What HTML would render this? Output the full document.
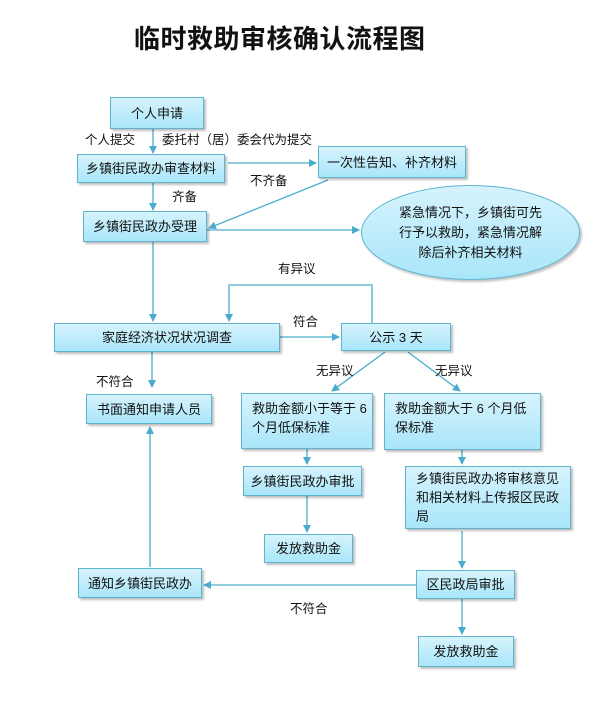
<!DOCTYPE html>
<html><head><meta charset="utf-8"><style>
body{margin:0;width:605px;height:705px;background:#fff;position:relative;overflow:hidden;font-family:"Liberation Sans","Noto Sans CJK SC",sans-serif;font-size:13px;color:#111}
.b{position:absolute;box-sizing:border-box;border:1px solid #5fb3cf;background:linear-gradient(#d6f3fc,#a9e6fa);box-shadow:2px 2px 2px rgba(0,0,0,.25);display:flex;align-items:center;justify-content:center;text-align:center;line-height:19px}
.l{justify-content:flex-start;text-align:left;padding-left:10px;align-items:flex-start;padding-top:5px}
.t{position:absolute;white-space:nowrap;font-size:12.5px}
svg{position:absolute;left:0;top:0}
</style></head><body>
<div class="t" style="left:134px;top:19px;font-size:26px;font-weight:bold;letter-spacing:0.5px">临时救助审核确认流程图</div>
<svg width="605" height="705"><defs><marker id="a" markerWidth="8" markerHeight="8" refX="7" refY="4" orient="auto" markerUnits="userSpaceOnUse"><path d="M0,0L8,4L0,8z" fill="#4aaccc"/></marker></defs>
<g stroke="#4aaccc" stroke-width="1.3" fill="none" marker-end="url(#a)">
<path d="M153 129V153"/><path d="M228 163H316"/><path d="M153 183V210"/>
<path d="M328 180L209 228"/><path d="M207 230H359"/>
<path d="M153 242V321"/><path d="M372 323V285H229V321"/>
<path d="M280 337H339"/><path d="M152 352V387"/>
<path d="M385 352L332 391"/><path d="M408 352L460 391"/>
<path d="M307 449V464"/><path d="M307 496V532"/>
<path d="M462 450V464"/><path d="M462 531V568"/><path d="M462 599V634"/>
<path d="M416 585H204"/><path d="M150 567V427"/>
</g></svg>
<div class="b" style="left:110px;top:97px;width:94px;height:32px">个人申请</div>
<div class="t" style="left:85px;top:129px">个人提交</div>
<div class="t" style="left:162px;top:129px">委托村（居）委会代为提交</div>
<div class="b" style="left:77px;top:154px;width:148px;height:29px">乡镇街民政办审查材料</div>
<div class="b" style="left:318px;top:146px;width:148px;height:32px">一次性告知、补齐材料</div>
<div class="t" style="left:250px;top:170px">不齐备</div>
<div class="t" style="left:172px;top:186px">齐备</div>
<div class="b" style="left:83px;top:211px;width:124px;height:31px">乡镇街民政办受理</div>
<div class="b" style="left:361px;top:185px;width:219px;height:95px;border-radius:50%;line-height:20px">紧急情况下，乡镇街可先<br>行予以救助，紧急情况解<br>除后补齐相关材料</div>
<div class="t" style="left:278px;top:258px">有异议</div>
<div class="b" style="left:54px;top:323px;width:226px;height:29px">家庭经济状况状况调查</div>
<div class="t" style="left:293px;top:311px">符合</div>
<div class="b" style="left:341px;top:323px;width:110px;height:28px">公示 3 天</div>
<div class="t" style="left:96px;top:371px">不符合</div>
<div class="t" style="left:316px;top:360px">无异议</div>
<div class="t" style="left:435px;top:360px">无异议</div>
<div class="b" style="left:86px;top:394px;width:126px;height:30px">书面通知申请人员</div>
<div class="b l" style="left:241px;top:393px;width:132px;height:56px">救助金额小于等于 6<br>个月低保标准</div>
<div class="b l" style="left:384px;top:393px;width:157px;height:57px">救助金额大于 6 个月低<br>保标准</div>
<div class="b" style="left:243px;top:466px;width:119px;height:30px">乡镇街民政办审批</div>
<div class="b" style="left:264px;top:534px;width:89px;height:29px">发放救助金</div>
<div class="b l" style="left:405px;top:466px;width:166px;height:63px;padding-top:2px">乡镇街民政办将审核意见<br>和相关材料上传报区民政<br>局</div>
<div class="b" style="left:78px;top:568px;width:124px;height:30px">通知乡镇街民政办</div>
<div class="b" style="left:416px;top:570px;width:99px;height:29px">区民政局审批</div>
<div class="t" style="left:290px;top:598px">不符合</div>
<div class="b" style="left:418px;top:636px;width:96px;height:31px">发放救助金</div>
</body></html>
